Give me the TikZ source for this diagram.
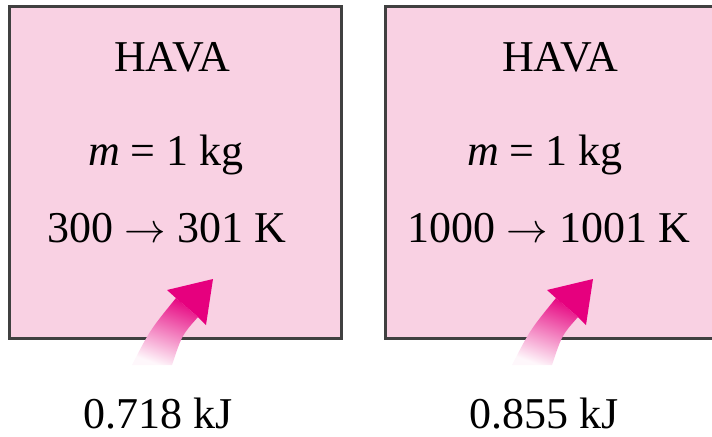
\documentclass[tikz,border=0pt]{standalone}
\usepackage{fontspec}
\setmainfont{Liberation Serif}
\usepackage{tikz}
\usetikzlibrary{positioning}
\usetikzlibrary{calc}

\definecolor{tankpink}{RGB}{249,209,227}
\definecolor{heat}{RGB}{230,0,126}
\definecolor{boxline}{RGB}{64,64,64}

\tikzset{
    tank/.style={draw=boxline, line width=1.5pt, fill=tankpink, inner sep=0pt, minimum width=166pt, minimum height=166pt},
    lbl/.style={anchor=base, inner sep=0pt, font=\fontsize{22}{26}\selectfont},
    heatflow/.style={top color=heat!95, middle color=heat!55, bottom color=heat!3, shading angle=-20},
    heathead/.style={fill=heat},
}

\begin{document}
\begin{tikzpicture}[x=0.5pt, y=-0.5pt]
    \clip (0,0) rectangle (712,436);

    \node [tank] (air1) at (175.5,172.5) {};
    \node [tank] (air2) at (551.5,172.5) {};

    \node [lbl] (gas1) at (172,71) {HAVA};
    \node [lbl] (mass1) at (166,165) {\textit{m} = 1 kg};
    \node [lbl] (temp1) at (167,242) {300 $\rightarrow$ 301 K};
    \node [lbl] (q1) at (158,428) {0.718 kJ};

    \node [lbl] (gas2) at (560,71) {HAVA};
    \node [lbl] (mass2) at (545,165) {\textit{m} = 1 kg};
    \node [lbl] (temp2) at (549,242) {1000 $\rightarrow$ 1001 K};
    \node [lbl] (q2) at (544,428) {0.855 kJ};

    % heat in
    \foreach \tx in {132,512} {
        \shade [heatflow, shift={(\tx,365)}] (0,0) .. controls (18,-35) .. (44,-67) -- (66,-48) .. controls (50,-30) .. (40,0) -- cycle;
        \fill [heathead, shift={(\tx,365)}] (45,-66) -- (35,-75) -- (81,-86) -- (74,-40) -- (65,-49) -- cycle;
    }
\end{tikzpicture}
\end{document}
